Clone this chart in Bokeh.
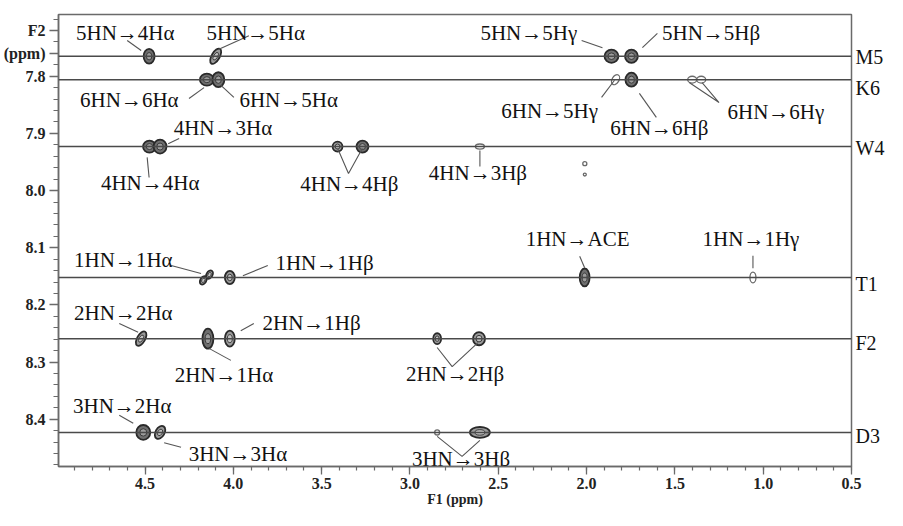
import numpy as np
from bokeh.plotting import figure
from bokeh.models import (Range1d, FixedTicker, Span, ColumnDataSource,
                          LinearAxis, PrintfTickFormatter)
from bokeh.embed import file_html
from bokeh.resources import INLINE

# ---------------- data ----------------
residues = ["M5", "K6", "W4", "T1", "F2", "D3"]
hn_shift = [7.765, 7.806, 7.923, 8.152, 8.259, 8.423]
residue_label_pos = [7.766, 7.820, 7.925, 8.163, 8.266, 8.430]

# cross peaks: F1 (ppm), F2 (ppm), linewidths (ppm), tilt (deg), contour level
peak_f1 = [4.477, 4.100, 1.859, 1.746,
           4.150, 4.085, 1.836, 1.746, 1.402, 1.351,
           4.475, 4.415, 3.410, 3.269, 2.604, 2.010, 2.010,
           4.170, 4.135, 4.020, 2.011, 1.058,
           4.522, 4.144, 4.020, 2.846, 2.609,
           4.510, 4.415, 2.846, 2.604]
peak_f2 = [7.765, 7.765, 7.765, 7.765,
           7.806, 7.806, 7.806, 7.806, 7.806, 7.806,
           7.923, 7.923, 7.923, 7.923, 7.923, 7.953, 7.972,
           8.157, 8.147, 8.152, 8.152, 8.152,
           8.259, 8.259, 8.259, 8.259, 8.259,
           8.423, 8.423, 8.423, 8.423]
peak_w = [0.062, 0.045, 0.079, 0.073,
          0.079, 0.068, 0.039, 0.068, 0.051, 0.051,
          0.073, 0.073, 0.056, 0.068, 0.051, 0.023, 0.017,
          0.034, 0.034, 0.056, 0.056, 0.034,
          0.045, 0.062, 0.056, 0.045, 0.068,
          0.079, 0.051, 0.028, 0.113]
peak_h = [0.026, 0.030, 0.023, 0.023,
          0.021, 0.026, 0.019, 0.0245, 0.012, 0.012,
          0.021, 0.0245, 0.0175, 0.021, 0.009, 0.007, 0.005,
          0.016, 0.016, 0.023, 0.0315, 0.019,
          0.028, 0.035, 0.028, 0.019, 0.023,
          0.026, 0.0245, 0.009, 0.019]
peak_tilt = [0, -30, 0, 0,
             0, 0, -30, 0, 0, 0,
             0, 0, 0, 0, 0, 0, 0,
             -30, -30, 0, 0, 0,
             -30, 0, 0, 0, 0,
             0, -30, 0, 0]
peak_level = [3, 2, 3, 3,
              3, 3, 1, 3, 1, 1,
              3, 3, 2, 3, 1, 1, 1,
              2, 2, 2, 3, 1,
              2, 3, 2, 2, 2,
              3, 2, 1, 2]

# assignment labels
label_text = ["5HN\u21924H\u03b1", "5HN\u21925H\u03b1", "6HN\u21926H\u03b1", "6HN\u21925H\u03b1",
              "4HN\u21923H\u03b1", "4HN\u21924H\u03b1", "4HN\u21924H\u03b2", "4HN\u21923H\u03b2",
              "5HN\u21925H\u03b3", "5HN\u21925H\u03b2", "6HN\u21925H\u03b3", "6HN\u21926H\u03b2",
              "6HN\u21926H\u03b3", "1HN\u2192ACE", "1HN\u21921H\u03b3", "1HN\u21921H\u03b1",
              "1HN\u21921H\u03b2", "2HN\u21922H\u03b1", "2HN\u21921H\u03b2", "2HN\u21921H\u03b1",
              "2HN\u21922H\u03b2", "3HN\u21922H\u03b1", "3HN\u21923H\u03b1", "3HN\u21923H\u03b2"]
label_f1 = [4.612, 3.873, 4.589, 3.687,
            4.059, 4.471, 3.343, 2.615,
            2.327, 1.295, 2.209, 1.588,
            0.928, 2.051, 1.069, 4.623,
            3.484, 4.623, 3.557, 4.053,
            2.745, 4.629, 3.974, 2.711]
label_f2 = [7.7235, 7.7235, 7.841, 7.841,
            7.8914, 7.9876, 7.988, 7.970,
            7.725, 7.725, 7.860, 7.891,
            7.863, 8.084, 8.084, 8.1206,
            8.126, 8.215, 8.231, 8.323,
            8.320, 8.376, 8.460, 8.470]

# leader lines (ppm)
leader_xs = [[4.601, 4.522], [4.082, 3.912], [4.251, 4.166], [4.070, 3.997],
             [4.369, 4.307], [4.488, 4.477], [3.410, 3.348, 3.269], [2.604, 2.604],
             [2.028, 1.910], [1.684, 1.599], [1.915, 1.842], [1.701, 1.605],
             [1.419, 1.250, 1.346], [2.039, 2.011], [1.058, 1.058], [4.352, 4.183],
             [3.805, 3.946], [4.646, 4.539], [3.884, 3.958], [4.138, 4.014],
             [2.846, 2.761, 2.615], [4.646, 4.567], [4.392, 4.296], [2.846, 2.705, 2.604]]
leader_ys = [[7.7375, 7.755], [7.753, 7.729], [7.839, 7.820], [7.816, 7.837],
             [7.918, 7.909], [7.942, 7.977], [7.926, 7.970, 7.926], [7.930, 7.958],
             [7.7375, 7.750], [7.750, 7.725], [7.837, 7.807], [7.830, 7.872],
             [7.811, 7.846, 7.811], [8.115, 8.135], [8.114, 8.136], [8.131, 8.145],
             [8.131, 8.149], [8.2325, 8.248], [8.2325, 8.245], [8.276, 8.297],
             [8.2745, 8.308, 8.266], [8.393, 8.407], [8.441, 8.449], [8.430, 8.465, 8.437]]

y_major = [7.8, 7.9, 8.0, 8.1, 8.2, 8.3, 8.4]
x_major = [4.5, 4.0, 3.5, 3.0, 2.5, 2.0, 1.5, 1.0, 0.5]
y_title = {7.72: "F2", 7.76: "(ppm)"}

# ---------------- figure ----------------
SERIF = "Liberation Serif"
W, H = 887, 510
LEFT, TOP, RIGHT, BOTTOM = 57, 14, 34, 44
PX_PER_PPM_Y = 571.7
y_top = 7.692
y_bot = y_top + (H - TOP - BOTTOM) / PX_PER_PPM_Y

p = figure(width=W, height=H,
           x_range=Range1d(4.99, 0.5), y_range=Range1d(y_bot, y_top),
           output_backend="svg", toolbar_location=None,
           min_border_left=LEFT, min_border_right=RIGHT,
           min_border_top=TOP, min_border_bottom=BOTTOM)
p.grid.visible = False
p.outline_line_color = "#6a6a6a"
p.outline_line_width = 1.5
p.background_fill_color = "white"
p.border_fill_color = "white"

for ax in (p.xaxis[0], p.yaxis[0]):
    ax.axis_line_color = "#6a6a6a"
    ax.axis_line_width = 1.5
    ax.major_tick_line_color = "#6a6a6a"
    ax.minor_tick_line_color = "#6a6a6a"
    ax.major_tick_line_width = 1.3
    ax.minor_tick_line_width = 1.2
    ax.major_tick_in = 0
    ax.minor_tick_in = 0
    ax.major_label_text_font = SERIF
    ax.major_label_text_font_style = "bold"
    ax.major_label_text_font_size = "16px"
    ax.major_label_text_color = "#222222"
    ax.formatter = PrintfTickFormatter(format="%.1f")

p.xaxis.ticker = FixedTicker(ticks=x_major,
                             minor_ticks=list(np.round(np.arange(0.5, 4.95, 0.1), 2)))
p.yaxis.ticker = FixedTicker(ticks=list(y_title.keys()) + y_major,
                             minor_ticks=list(np.round(np.arange(7.70, 8.49, 0.02), 3)))
p.yaxis.major_label_overrides = y_title
p.xaxis.major_tick_out = 8
p.xaxis.minor_tick_out = 4
p.yaxis.major_tick_out = 9
p.yaxis.minor_tick_out = 5
p.xaxis.major_label_standoff = 3
p.yaxis.major_label_standoff = 4
p.xaxis.axis_label = "F1 (ppm)"
p.xaxis.axis_label_text_font = SERIF
p.xaxis.axis_label_text_font_style = "bold"
p.xaxis.axis_label_text_font_size = "14px"
p.xaxis.axis_label_text_color = "#222222"
p.xaxis.axis_label_standoff = 0

# residue names on the right, as an unmarked axis
raxis = LinearAxis(ticker=FixedTicker(ticks=residue_label_pos, minor_ticks=[]),
                   major_label_overrides={k: v for k, v in zip(residue_label_pos, residues)},
                   axis_line_color=None, major_tick_line_color=None,
                   minor_tick_line_color=None, major_tick_out=0, major_tick_in=0,
                   major_label_standoff=4, major_label_text_font=SERIF,
                   major_label_text_font_size="20px", major_label_text_color="#111111")
p.add_layout(raxis, "right")

# residue HN lines
for y in hn_shift:
    p.add_layout(Span(location=y, dimension="width", line_color="#4a4a4a", line_width=1.5))

# peaks as contour rings
f1 = np.array(peak_f1); f2 = np.array(peak_f2)
w = np.array(peak_w); h = np.array(peak_h)
ang = np.array(peak_tilt, dtype=float); lev = np.array(peak_level)

fill1 = np.where(lev == 3, "#6f6f6f", np.where(lev == 2, "#9a9a9a", "white"))
line1 = np.where(lev == 1, "#6a6a6a", "#2a2a2a")
lw1 = np.where(lev == 1, 1.3, 1.8)
src1 = ColumnDataSource(dict(x=f1, y=f2, w=w, h=h, a=ang, fc=fill1, lc=line1, lw=lw1))
p.ellipse(x="x", y="y", width="w", height="h", angle="a", angle_units="deg",
          fill_color="fc", line_color="lc", line_width="lw", source=src1)

m2 = lev >= 2
fill2 = np.where(lev[m2] == 3, "#9d9d9d", "#c2c2c2")
src2 = ColumnDataSource(dict(x=f1[m2], y=f2[m2], w=w[m2] * 0.5, h=h[m2] * 0.5,
                             a=ang[m2], fc=fill2))
p.ellipse(x="x", y="y", width="w", height="h", angle="a", angle_units="deg",
          fill_color="fc", line_color="#3a3a3a", line_width=1.0, source=src2)

# leader lines
p.multi_line(xs=leader_xs, ys=leader_ys, line_color="#555555", line_width=1.1)

# assignment labels
p.text(x=label_f1, y=label_f2, text=label_text, text_align="center",
       text_baseline="middle", text_font={"value": SERIF},
       text_font_size="21px", text_color="#111111")

open("out.html", "w").write(file_html(p, INLINE))
